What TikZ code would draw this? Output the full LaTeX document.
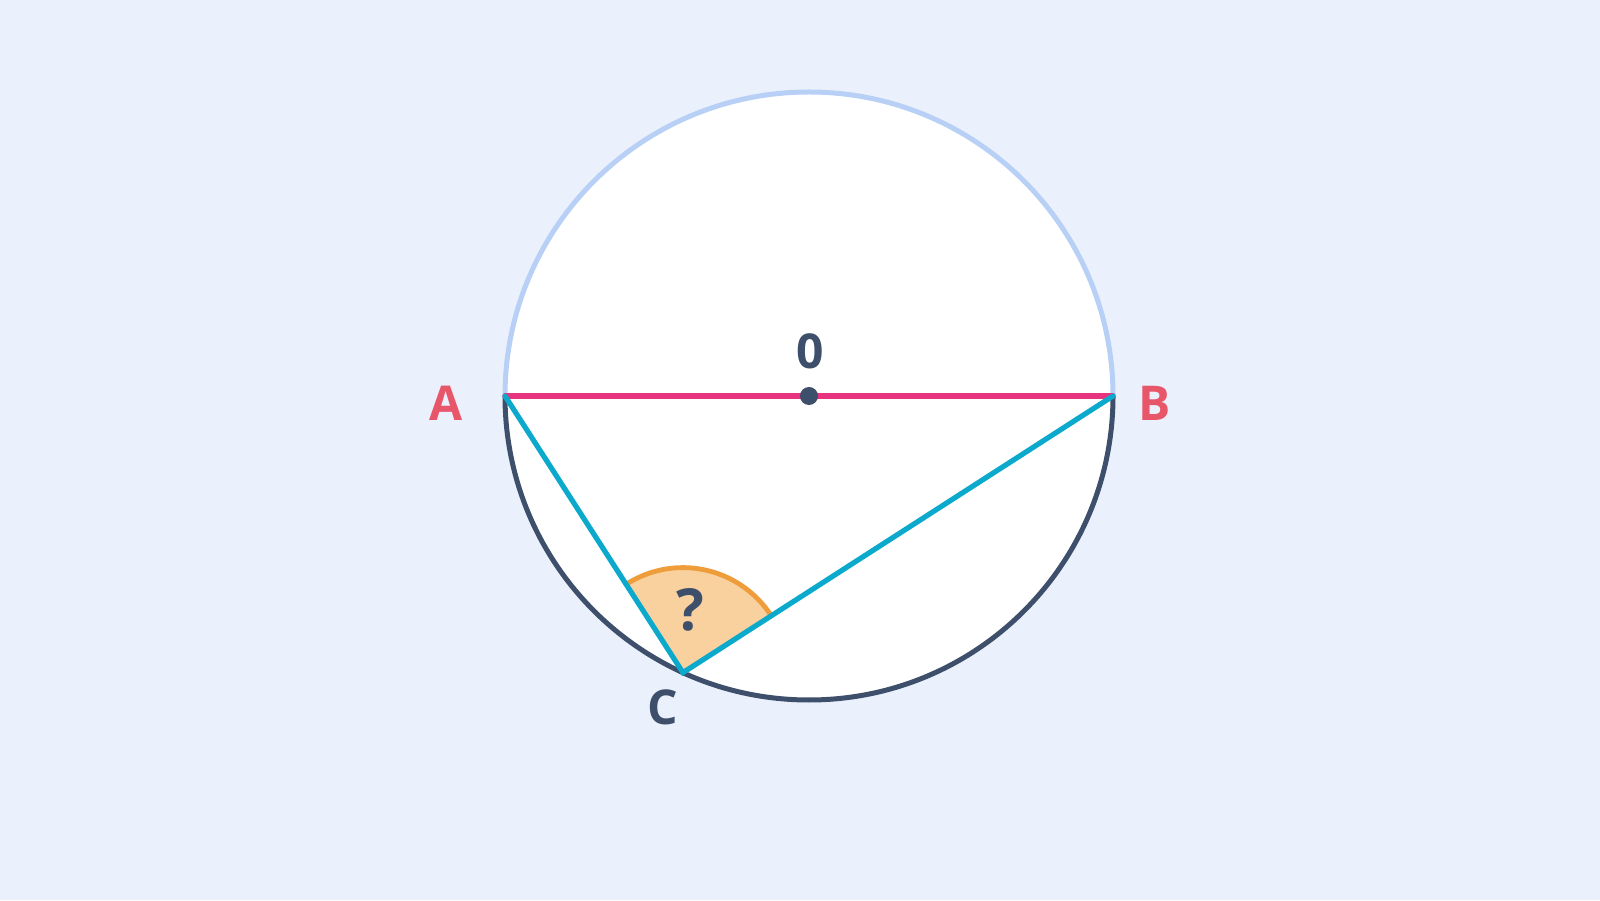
\documentclass[tikz,border=0pt]{standalone}
\usepackage{fontspec}
\setmainfont{Open Sans}
\usetikzlibrary{calc}
\definecolor{bgblue}{HTML}{EBF1FC}
\definecolor{ringlight}{HTML}{B8D0F5}
\definecolor{ringdark}{HTML}{3D4F6A}
\definecolor{diampink}{HTML}{E8347F}
\definecolor{chordcyan}{HTML}{0BAACC}
\definecolor{angline}{HTML}{EE9D3A}
\definecolor{angfill}{HTML}{F9D19F}
\definecolor{labred}{HTML}{E8566A}
\begin{document}
\begin{tikzpicture}[x=0.5pt,y=0.5pt,
ring/.style={line width=2.5pt},
chord/.style={line width=2.6pt,line cap=round},
lbl/.style={font=\bfseries\fontsize{24}{24}\selectfont},
]
\fill[bgblue] (0,0) rectangle (1600,900);
\useasboundingbox (0,0) rectangle (1600,900);

\coordinate (O) at (809,504);
\coordinate (A) at (505,504);
\coordinate (B) at (1113,504);
\coordinate (C) at ($(O)+(245.5:304)$);

% circle
\fill[white] (O) circle[radius=304];
\draw[ring,ringlight] (A) arc[start angle=180,end angle=0,radius=304];
\draw[ring,ringdark] (A) arc[start angle=180,end angle=360,radius=304];

% angle at C
\fill[angfill] (C) -- ($(C)+(32.75:105)$) arc[start angle=32.75,end angle=122.8,radius=105] -- cycle;
\draw[angline,line width=2.4pt] ($(C)+(32.75:105)$) arc[start angle=32.75,end angle=122.8,radius=105];

% chords
\draw[chord,diampink] (A) -- (B);
\draw[chord,chordcyan] (A) -- (C) -- (B);
\fill[ringdark] (O) circle[radius=9];

% labels
\node[lbl,text=labred] (la) at (446,497) {A};
\node[lbl,text=labred] (lb) at (1155,497) {B};
\node[lbl,text=ringdark] (lo) at (810,549) {0};
\node[lbl,text=ringdark] (lc) at (663,193) {C};
\node[lbl,text=ringdark,font=\bfseries\fontsize{29}{29}\selectfont] (lq) at (690,290) {?};
\end{tikzpicture}
\end{document}
